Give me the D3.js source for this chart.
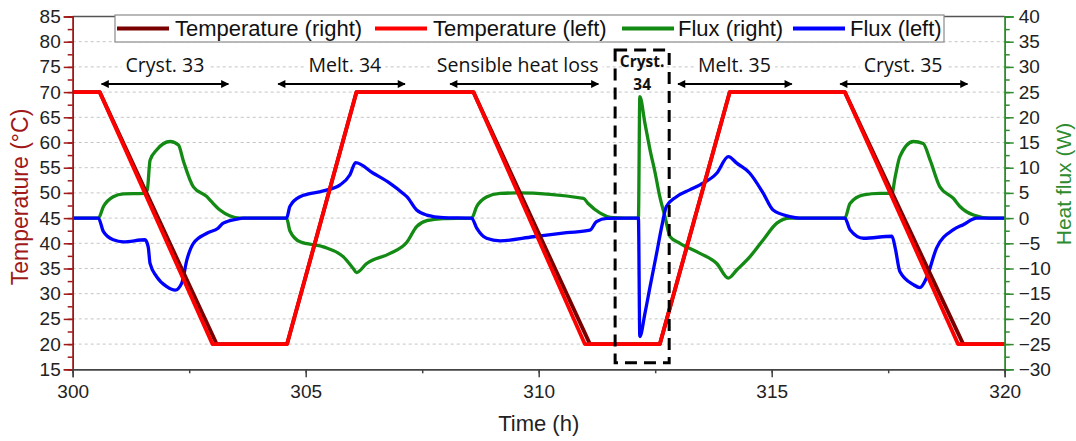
<!DOCTYPE html>
<html>
<head>
<meta charset="utf-8">
<script src="https://cdn.jsdelivr.net/npm/d3@7"></script>
<style>
  body { margin: 0; background: #fff; }
  svg text { font-family: "Liberation Sans", Arial, sans-serif; }
  .anno { font-family: "Open Sans", "Liberation Sans", sans-serif; }
</style>
</head>
<body>
<div id="chart"></div>
<script>
// temperatures (°C) as [time h, value]
var tempRight = [[300,70],[300.58,70],[303.09,20],[304.6,20],[306.09,70],[308.6,70],[311.1,20],[312.6,20],[314.1,70],[316.57,70],[319.11,20],[320,20]];
var tempLeft  = [[300,70],[300.58,70],[303.0,20],[304.6,20],[306.09,70],[308.6,70],[310.99,20],[312.6,20],[314.1,70],[316.57,70],[319.0,20],[320,20]];

// heat flux (W) as [time h, value]
var fluxRight = [[300,0],[300.55,0],[300.66,2.3],[300.87,4.25],[301.09,4.8],[301.52,4.9],[301.6,5.6],[301.66,11.5],[301.8,13.5],[302.09,15.2],[302.27,14.5],[302.37,11.5],[302.59,6.2],[302.88,4.25],[302.98,3.25],[303.16,1.6],[303.38,0.4],[303.59,0],
  [304.59,0],[304.66,-2.5],[304.88,-4.7],[305.38,-5.7],[305.81,-7.7],[306.02,-10],[306.09,-10.8],[306.31,-9.0],[306.81,-7.0],[307.17,-4.8],[307.38,-1.7],[307.6,-0.5],[307.95,-0.1],[308.56,0],
  [308.67,2.3],[308.88,4.2],[309.17,4.9],[309.53,5.0],[310.96,3.9],[311.06,2.9],[311.32,1.0],[311.6,0.1],[312.14,0],
  [312.17,24.1],[312.28,18.8],[312.39,13.5],[312.5,8.9],[312.6,4.2],[312.71,0.3],[312.82,-3.7],[313.03,-5.0],[313.46,-7.0],[313.82,-9.0],[314.07,-11.9],[314.25,-10.3],[314.53,-7.7],[314.82,-4.3],[315.11,-1.0],[315.39,0],
  [316.57,0],[316.68,2.9],[316.97,4.6],[317.32,4.9],[317.58,4.9],[317.65,8.2],[317.75,12.2],[318.04,15.2],[318.25,14.8],[318.4,11.5],[318.61,6.2],[318.9,3.9],[319.04,2.3],[319.33,0.6],[319.68,0],[320,0]];

var fluxLeft = [[300,0],[300.55,0],[300.66,-2.7],[300.87,-4.3],[301.09,-4.7],[301.55,-4.3],[301.62,-5.7],[301.66,-9.0],[301.8,-11.6],[302.02,-13.6],[302.2,-14.3],[302.34,-12.9],[302.45,-8.3],[302.59,-5.0],[302.88,-3.0],[303.12,-2.0],[303.23,-1.0],[303.52,-0.2],[303.66,0],
  [304.59,0],[304.66,2.3],[304.88,4.25],[305.38,5.4],[305.74,6.6],[305.95,8.6],[306.07,11.0],[306.45,8.9],[306.81,6.9],[307.09,4.9],[307.17,4.25],[307.38,1.6],[307.6,0.6],[307.95,0.1],[308.56,0],
  [308.67,-2.0],[308.88,-4.0],[309.17,-4.5],[309.88,-3.7],[310.6,-2.9],[311.1,-2.4],[311.24,-0.7],[311.46,-0.05],[312.14,0],
  [312.17,-23.5],[312.28,-18.9],[312.39,-13.6],[312.53,-7.0],[312.64,-1.7],[312.74,2.3],[312.95,4.2],[313.24,5.6],[313.46,6.6],[313.82,8.9],[314.07,12.2],[314.25,10.9],[314.53,8.9],[314.82,4.9],[315.03,1.6],[315.39,0.3],[315.6,0],
  [316.57,0],[316.68,-2.3],[316.97,-4.0],[317.58,-3.6],[317.65,-5.9],[317.75,-10.6],[318.04,-13.2],[318.18,-13.8],[318.32,-11.9],[318.54,-5.9],[318.9,-2.3],[319.11,-1.3],[319.4,0],[320,0]];

// tick values
var xTicks = [300,305,310,315,320];
var tempTicks = [15,20,25,30,35,40,45,50,55,60,65,70,75,80,85];
var fluxTicks = [-30,-25,-20,-15,-10,-5,0,5,10,15,20,25,30,35,40];

// annotations: label, arrow from / to (h), label centre (h)
var annoLabels = ["Cryst. 33","Melt. 34","Sensible heat loss","Melt. 35","Cryst. 35"];
var annoFrom   = [300.62,304.41,308.1,312.99,316.47];
var annoTo     = [303.34,307.13,311.28,315.43,319.2];
var annoMid    = [301.98,305.84,309.55,314.2,317.82];
var boxRange   = [311.64,312.8];   // dashed box around Cryst. 34 (h)

var legendNames = ["Temperature (right)","Temperature (left)","Flux (right)","Flux (left)"];

var W = 1076, H = 441;
var margin = {top: 16.5, right: 71.3, bottom: 71.7, left: 72.7},
    width = W - margin.left - margin.right,
    height = H - margin.top - margin.bottom;

var cDark = "#7a0000", cRed = "#ff0000", cGreen = "#138a13", cBlue = "#0000ff";
var axRed = "#a01818", axGreen = "#2e8b2e";

var svg = d3.select("#chart").append("svg").attr("width", W).attr("height", H);
var g = svg.append("g").attr("transform", "translate(" + margin.left + "," + margin.top + ")");

var x = d3.scaleLinear().domain([300,320]).range([0,width]);
var yT = d3.scaleLinear().domain([15,85]).range([height,0]);
var yF = d3.scaleLinear().domain([-30,40]).range([height,0]);

// grid
g.append("g").selectAll("line").data(tempTicks.filter(function(d){return d>15 && d<85;}))
  .enter().append("line")
  .attr("x1",0).attr("x2",width)
  .attr("y1",function(d){return yT(d);}).attr("y2",function(d){return yT(d);})
  .attr("stroke","#c4c4c4").attr("stroke-dasharray","3,3").attr("stroke-width",1);

// top frame
g.append("line").attr("x1",0).attr("x2",width).attr("y1",0).attr("y2",0)
  .attr("stroke","#555").attr("stroke-width",1.5);

// lines
var lineT = d3.line().x(function(d){return x(d[0]);}).y(function(d){return yT(d[1]);});
var lineF = d3.line().x(function(d){return x(d[0]);}).y(function(d){return yF(d[1]);}).curve(d3.curveMonotoneX);

g.append("path").datum(fluxRight).attr("d",lineF).attr("fill","none").attr("stroke",cGreen).attr("stroke-width",3.3).attr("stroke-linejoin","round");
g.append("path").datum(fluxLeft).attr("d",lineF).attr("fill","none").attr("stroke",cBlue).attr("stroke-width",3.3).attr("stroke-linejoin","round");
g.append("path").datum(tempRight).attr("d",lineT).attr("fill","none").attr("stroke",cDark).attr("stroke-width",3.8).attr("stroke-linejoin","round");
g.append("path").datum(tempLeft).attr("d",lineT).attr("fill","none").attr("stroke",cRed).attr("stroke-width",3.8).attr("stroke-linejoin","round");

// axes
function styleAxis(sel, col) {
  sel.select(".domain").attr("stroke", col).attr("stroke-width", 1.5);
  sel.selectAll(".tick line").attr("stroke", col).attr("stroke-width", 1.5);
  sel.selectAll(".tick text").attr("fill", "#222").style("font-size", "19px");
}
var minorT = d3.range(15, 85.01, 2.5), minorF = d3.range(-30, 40.01, 2.5), minorX = d3.range(300, 320.01, 2.5);

var axL = g.append("g").call(d3.axisLeft(yT).tickValues(minorT).tickSize(5).tickFormat(""));
styleAxis(axL, axRed);
axL = g.append("g").call(d3.axisLeft(yT).tickValues(tempTicks).tickSize(9).tickPadding(3));
styleAxis(axL, axRed);

var axR = g.append("g").attr("transform","translate(" + width + ",0)").call(d3.axisRight(yF).tickValues(minorF).tickSize(5).tickFormat(""));
styleAxis(axR, axGreen);
axR = g.append("g").attr("transform","translate(" + width + ",0)").call(d3.axisRight(yF).tickValues(fluxTicks).tickSize(9).tickPadding(5));
styleAxis(axR, axGreen);

var axB = g.append("g").attr("transform","translate(0," + height + ")").call(d3.axisBottom(x).tickValues(minorX).tickSize(4).tickFormat(""));
styleAxis(axB, "#444");
axB = g.append("g").attr("transform","translate(0," + height + ")").call(d3.axisBottom(x).tickValues(xTicks).tickSize(8).tickPadding(7));
styleAxis(axB, "#444");

// axis titles
svg.append("text").attr("transform","translate(" + 28 + "," + 197 + ") rotate(-90)")
  .attr("text-anchor","middle").attr("fill",axRed).style("font-size","23px").text("Temperature (°C)");
svg.append("text").attr("transform","translate(" + 1071 + "," + 184 + ") rotate(-90)")
  .attr("text-anchor","middle").attr("fill",axGreen).style("font-size","21px").text("Heat flux (W)");
svg.append("text").attr("x", margin.left + width/2).attr("y", 431)
  .attr("text-anchor","middle").attr("fill","#222").style("font-size","22px").text("Time (h)");

// arrow marker
var defs = svg.append("defs");
defs.append("marker").attr("id","ah").attr("viewBox","0 0 10 10").attr("refX",9).attr("refY",5)
  .attr("markerWidth",10).attr("markerHeight",8).attr("markerUnits","userSpaceOnUse").attr("orient","auto-start-reverse")
  .append("path").attr("d","M0,0 L10,5 L0,10 z").attr("fill","#000");

// annotations
var yArrow = 71.6, yText = 73.9;
annoLabels.forEach(function(lab, i) {
  var t = g.append("text").attr("class","anno").attr("x", x(annoMid[i])).attr("y", yT(yText))
    .attr("text-anchor","middle").style("font-size","19.5px").attr("fill","#111").text(lab);
  var bb = t.node().getBBox();
  g.insert("rect", "text.anno").attr("x", bb.x - 4).attr("y", bb.y).attr("width", bb.width + 8).attr("height", bb.height)
    .attr("fill","#fff");
  g.append("line").attr("x1", x(annoFrom[i])).attr("x2", x(annoTo[i]))
    .attr("y1", yT(yArrow)).attr("y2", yT(yArrow))
    .attr("stroke","#000").attr("stroke-width",2)
    .attr("marker-start","url(#ah)").attr("marker-end","url(#ah)");
});

// dashed box for Cryst. 34
g.append("rect").attr("x", x(boxRange[0])).attr("y", yT(78.35))
  .attr("width", x(boxRange[1]) - x(boxRange[0])).attr("height", yT(16.3) - yT(78.35))
  .attr("fill","none").attr("stroke","#000").attr("stroke-width",3).attr("stroke-dasharray","12,7");
g.append("text").attr("class","anno").attr("x", x(312.22)).attr("y", yT(74.9)).attr("text-anchor","middle")
  .style("font-size","15.5px").style("font-weight","bold").attr("fill","#111").text("Cryst.");
g.append("text").attr("class","anno").attr("x", x(312.22)).attr("y", yT(70.5)).attr("text-anchor","middle")
  .style("font-size","15.5px").style("font-weight","bold").attr("fill","#111").text("34");

// legend
var legColors = [cDark, cRed, cGreen, cBlue];
var legLineX = [115, 373, 620, 791], legTextX = [175, 433, 678, 850];
var leg = svg.append("g");
leg.append("rect").attr("x",115).attr("y",15).attr("width",829).attr("height",27)
  .attr("fill","#fff").attr("stroke","#8a8a8a").attr("stroke-width",1.2);
legendNames.forEach(function(n, i) {
  leg.append("line").attr("x1", legLineX[i] + 2).attr("x2", legLineX[i] + 54).attr("y1", 28.5).attr("y2", 28.5)
    .attr("stroke", legColors[i]).attr("stroke-width", 3.8);
  leg.append("text").attr("x", legTextX[i]).attr("y", 35.5).style("font-size","22px").attr("fill","#111").text(n);
});
</script>
</body>
</html>
